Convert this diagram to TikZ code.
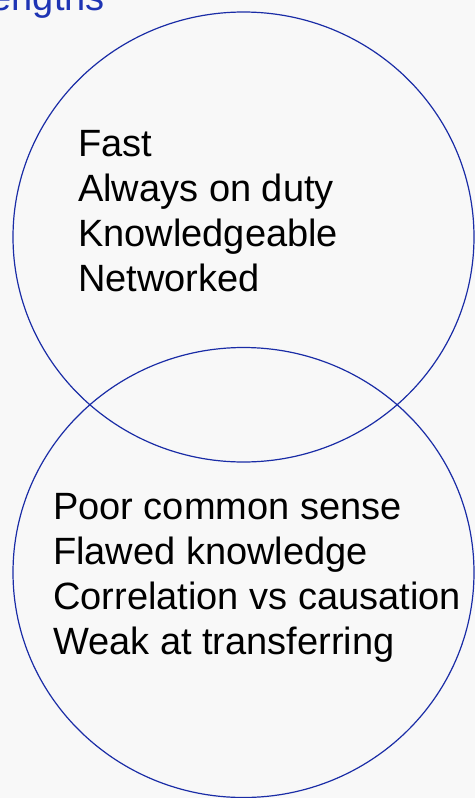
\documentclass[tikz,border=0pt]{standalone}
\usepackage{fontspec}
\setmainfont{Liberation Sans}
\usetikzlibrary{shapes.geometric}
\definecolor{bg}{HTML}{F8F8F8}
\definecolor{ring}{HTML}{1A2CA6}
\definecolor{head}{HTML}{1E34B4}
\tikzset{
  ringshape/.style={ellipse, draw=ring, line width=1.2pt, minimum width=461pt, minimum height=450pt, inner sep=0pt},
  item/.style={anchor=base west, inner sep=0pt, text=black, font=\fontsize{38pt}{45pt}\selectfont},
  headtext/.style={anchor=base east, inner sep=0pt, text=head, font=\fontsize{38pt}{45pt}\selectfont}
}
\begin{document}
\begin{tikzpicture}[x=1pt,y=-1pt]
\fill[bg] (0,0) rectangle (475,798);
\useasboundingbox (0,0) rectangle (475,798);
\begin{scope}
\clip (0,0) rectangle (475,798);
\node[headtext] (heading) at (105,10) {Strengths};
\node[ringshape] (upper) at (243.5,237) {};
\node[ringshape] (lower) at (243.5,572.5) {};
\node[item] (t1) at (78,156) {Fast};
\node[item] (t2) at (78,201) {Always on duty};
\node[item] (t3) at (78,246) {Knowledgeable};
\node[item] (t4) at (78,291) {Networked};
\node[item] (b1) at (53,519) {Poor common sense};
\node[item] (b2) at (53,564) {Flawed knowledge};
\node[item] (b3) at (53,609) {Correlation vs causation};
\node[item] (b4) at (53,654) {Weak at transferring};
\end{scope}
\end{tikzpicture}
\end{document}
